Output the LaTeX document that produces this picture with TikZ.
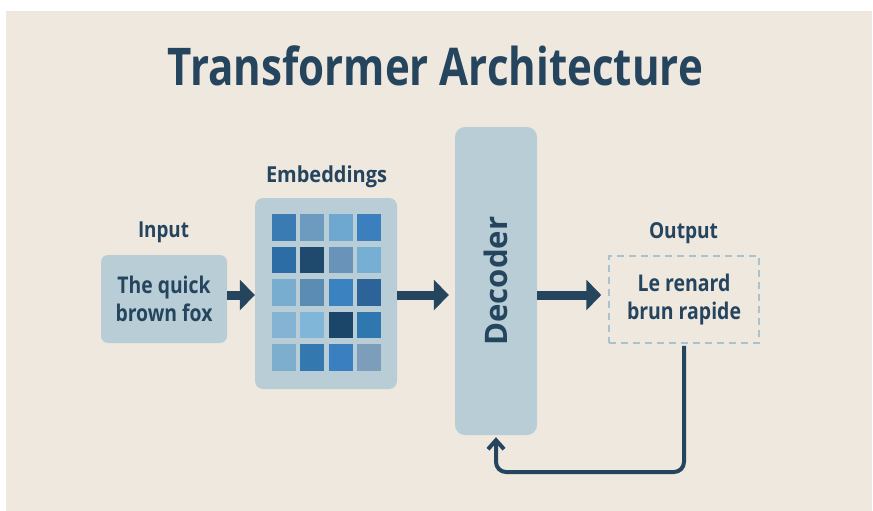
\documentclass[tikz,border=0pt]{standalone}
\usepackage{fontspec}
\setmainfont{Open Sans}
\usepackage{graphicx}
\usetikzlibrary{arrows.meta}
\definecolor{bg}{HTML}{EFE8DF}
\definecolor{navy}{HTML}{25445E}
\definecolor{boxc}{HTML}{B8CDD5}
\definecolor{dashc}{HTML}{A9C3CE}
\definecolor{e1}{HTML}{3A7BB4}\definecolor{e2}{HTML}{6D9ABF}\definecolor{e3}{HTML}{6EA8D0}\definecolor{e4}{HTML}{3B7FBE}
\definecolor{e5}{HTML}{2D6DA6}\definecolor{e6}{HTML}{1F4A6E}\definecolor{e7}{HTML}{6993B8}\definecolor{e8}{HTML}{77AED4}
\definecolor{e9}{HTML}{79ADD0}\definecolor{e10}{HTML}{5B8DB4}\definecolor{e11}{HTML}{3A82C0}\definecolor{e12}{HTML}{2C6398}
\definecolor{e13}{HTML}{84B3D3}\definecolor{e14}{HTML}{80B6D8}\definecolor{e15}{HTML}{1C456A}\definecolor{e16}{HTML}{2E78AF}
\definecolor{e17}{HTML}{7EAECE}\definecolor{e18}{HTML}{3478B0}\definecolor{e19}{HTML}{3A80C0}\definecolor{e20}{HTML}{7D9EBB}
\newcommand{\fw}[2]{\resizebox{#1pt}{\height}{#2}}
\tikzset{
  titletext/.style={text=navy, font=\fontsize{52}{60}\selectfont\bfseries, inner sep=0pt},
  labeltext/.style={text=navy, font=\fontsize{22}{26}\selectfont\bfseries, inner sep=0pt},
  panel/.style={fill=boxc, rounded corners=#1, inner sep=0pt, text=navy,
    font=\fontsize{23}{28}\selectfont\bfseries, align=center},
  outbox/.style={draw=dashc, line width=1.5pt, dash pattern=on 7pt off 5pt, inner sep=0pt,
    text=navy, font=\fontsize{23}{28}\selectfont\bfseries, align=center},
  bigarr/.style={draw=navy, line width=9pt, -{Triangle[length=15pt,width=30pt]}},
  fbline/.style={draw=navy, line width=4pt, rounded corners=10pt,
    -{Straight Barb[length=9pt,width=16pt]}},
}
\begin{document}
\begin{tikzpicture}[x=1pt,y=-1pt]
\useasboundingbox (0,0) rectangle (873,511);
\fill[white] (0,0) rectangle (873,511);
\fill[bg] (6,11) rectangle (872,511);

\node[titletext, anchor=base] (title) at (435.5,85) {\fw{535}{Transformer Architecture}};

\node[labeltext, anchor=base] (inlab) at (163.5,237) {\fw{51}{Input}};
\node[labeltext, anchor=base] (emblab) at (326.5,182) {\fw{121}{Embeddings}};
\node[labeltext, anchor=base] (outlab) at (683.5,238) {\fw{69}{Output}};

\node[panel=7pt, minimum width=126pt, minimum height=88pt] (in) at (164,299)
  {\fw{93}{The quick}\\\fw{97}{brown fox}};
\node[panel=8pt, minimum width=142pt, minimum height=191pt] (emb) at (326,293.5) {};
\node[panel=10pt, minimum width=82pt, minimum height=308pt] (dec) at (496,281)
  {\rotatebox{90}{\fontsize{31}{36}\selectfont\fw{129}{Decoder}}};
\node[outbox, minimum width=150pt, minimum height=87pt] (out) at (684,299.5)
  {\fw{93}{Le renard}\\\fw{114}{brun rapide}};

% embedding grid
\foreach \r in {0,...,4}{
  \foreach \c in {0,...,3}{
    \pgfmathtruncatemacro{\n}{\r*4+\c+1}
    \fill[e\n] ({272+28.4*\c},{214+32.5*\r}) rectangle ++(24,26.5);
  }
}

\coordinate (ay) at (0,295);
\coordinate (fb) at (496,472);
\draw[bigarr] (in.east |- ay) -- (emb.west |- ay);
\draw[bigarr, shorten >=6pt] (emb.east |- ay) -- (dec.west |- ay);
\draw[bigarr, shorten >=7pt] (dec.east |- ay) -- (out.west |- ay);
\draw[fbline, shorten >=2pt] ([yshift=-2pt]out.south) |- (fb) -- (dec.south);
\end{tikzpicture}
\end{document}
